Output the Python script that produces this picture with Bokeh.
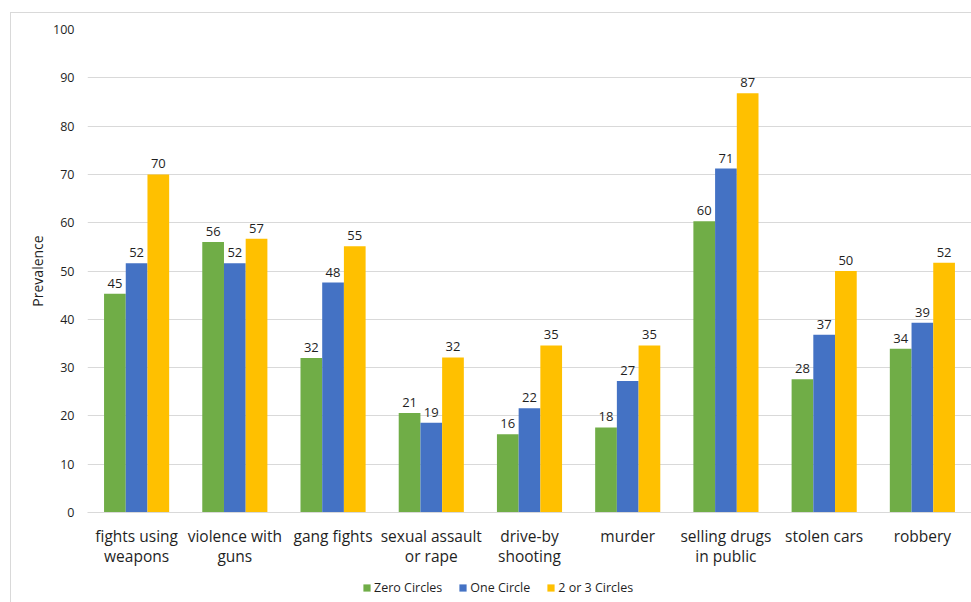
from bokeh.plotting import figure
from bokeh.layouts import column
from bokeh.models import FactorRange, Range1d, ColumnDataSource, Legend, LegendItem, FixedTicker
from bokeh.transform import dodge
from bokeh.core.properties import value
from bokeh.embed import file_html
from bokeh.resources import INLINE

categories = ["fights using\nweapons", "violence with\nguns", "gang fights", "sexual assault\nor rape",
              "drive-by\nshooting", "murder", "selling drugs\nin public", "stolen cars", "robbery"]
zero_circles = [45.3, 56.0, 32.0, 20.6, 16.2, 17.6, 60.3, 27.6, 33.9]
one_circle = [51.6, 51.6, 47.6, 18.6, 21.6, 27.2, 71.2, 36.8, 39.3]
two_three_circles = [70.0, 56.7, 55.1, 32.1, 34.6, 34.6, 86.8, 50.0, 51.7]
series_names = ["Zero Circles", "One Circle", "2 or 3 Circles"]
y_ticks = [0, 10, 20, 30, 40, 50, 60, 70, 80, 90, 100]

colors = ["#70AD47", "#4472C4", "#FFC000"]
FONT = "Open Sans"
TXT = "#1f1f1f"

src = ColumnDataSource(dict(
    cat=categories,
    zero=zero_circles, one=one_circle, two=two_three_circles,
    zero_l=[str(round(v)) for v in zero_circles],
    one_l=[str(round(v)) for v in one_circle],
    two_l=[str(round(v)) for v in two_three_circles],
))

p = figure(x_range=FactorRange(*categories), y_range=Range1d(0, 100),
           width=960, height=558, output_backend="svg", toolbar_location=None,
           min_border_left=76, min_border_right=0, min_border_top=16, min_border_bottom=59)

bw = 0.221
offsets = [-bw, 0, bw]
cols = ["zero", "one", "two"]
for off, c, col in zip(offsets, cols, colors):
    p.vbar(x=dodge("cat", off, range=p.x_range), top=c, width=bw, source=src,
           fill_color=col, line_color=None)
    p.text(x=dodge("cat", off, range=p.x_range), y=c, text=c + "_l", source=src,
           text_font=value(FONT), text_font_size="13px", text_color=TXT,
           text_align="center", text_baseline="bottom", y_offset=-6)

p.outline_line_color = None
p.xgrid.grid_line_color = None
p.ygrid.grid_line_color = "#d9d9d9"
p.ygrid.grid_line_width = 1
p.yaxis.ticker = FixedTicker(ticks=y_ticks)
p.yaxis.axis_line_color = None
p.yaxis.major_tick_line_color = None
p.yaxis.major_tick_out = 0
p.yaxis.minor_tick_line_color = None
p.yaxis.major_label_standoff = 13
p.yaxis.major_label_text_font = FONT
p.yaxis.major_label_text_font_size = "12.5px"
p.yaxis.major_label_text_color = TXT
p.yaxis.axis_label = "Prevalence"
p.yaxis.axis_label_text_font = FONT
p.yaxis.axis_label_text_font_size = "14px"
p.yaxis.axis_label_text_font_style = "normal"
p.yaxis.axis_label_text_color = TXT
p.yaxis.axis_label_standoff = 3

p.xaxis.axis_line_color = "#d9d9d9"
p.xaxis.major_tick_line_color = None
p.xaxis.major_tick_out = 0
p.xaxis.minor_tick_line_color = None
p.xaxis.major_label_standoff = 12
p.xaxis.major_label_text_font = FONT
p.xaxis.major_label_text_font_size = "15.5px"
p.xaxis.major_label_text_color = TXT
p.xaxis.major_label_text_line_height = 0.95

# legend strip (swatch renderers sit outside the visible range)
leg = figure(width=960, height=31, output_backend="svg", toolbar_location=None,
             min_border=0, x_range=Range1d(0, 1), y_range=Range1d(0, 1))
leg.axis.visible = False
leg.grid.visible = False
leg.outline_line_color = None
swatch = ColumnDataSource(dict(x=[5.0], top=[5.0]))
leg_r = [leg.vbar(x="x", top="top", width=0.1, source=swatch, fill_color=col, line_color=None)
         for col in colors]
legend = Legend(items=[LegendItem(label=n, renderers=[r]) for n, r in zip(series_names, leg_r)],
                orientation="horizontal", location=(275, 6),
                glyph_width=9, glyph_height=9, label_standoff=3, spacing=16,
                padding=0, margin=0, border_line_color=None, background_fill_alpha=0,
                label_text_font=FONT, label_text_font_size="12.5px", label_text_color=TXT,
                label_height=12, label_width=10)
leg.add_layout(legend, "center")

layout = column(p, leg, spacing=0, margin=(12, 0, 0, 10),
                styles={"border": "1px solid #d9d9d9", "background": "white"})

open("out.html", "w").write(file_html(layout, INLINE))
